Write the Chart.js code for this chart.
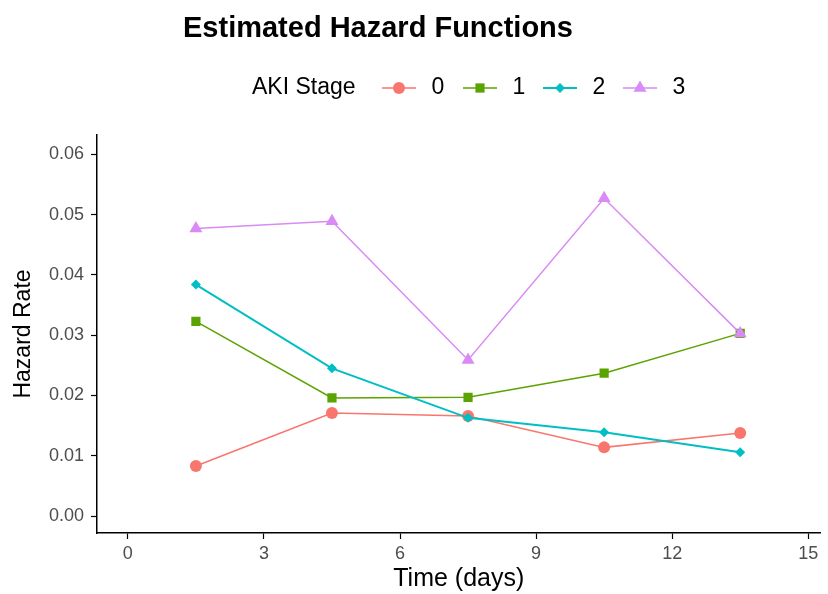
<!DOCTYPE html>
<html><head><meta charset="utf-8">
<script src="https://cdn.jsdelivr.net/npm/chart.js@4/dist/chart.umd.min.js"></script>
<style>html,body{margin:0;padding:0;background:#fff;}#wrap{width:828px;height:594px;}</style>
</head><body><div id="wrap"><canvas id="c" width="828" height="594"></canvas></div>
<script>
const chartTitle = "Estimated Hazard Functions";
const legendTitle = "AKI Stage";
const stages = ["0", "1", "2", "3"];
const times = [1.5, 4.5, 7.5, 10.5, 13.5];
const stage0 = [0.0083, 0.0171, 0.0166, 0.0114, 0.0138];
const stage1 = [0.0323, 0.0196, 0.0197, 0.0237, 0.0303];
const stage2 = [0.0384, 0.0245, 0.0163, 0.0139, 0.0106];
const stage3 = [0.0477, 0.0489, 0.0259, 0.0527, 0.0303];
const xTicks = [0, 3, 6, 9, 12, 15];
const yTicks = [0.00, 0.01, 0.02, 0.03, 0.04, 0.05, 0.06];

const FONT = '"Liberation Sans", Arial, sans-serif';
const series = [stage0, stage1, stage2, stage3];
const colors = ["#F8766D", "#5BA300", "#00BFC4", "#D98AF5"];
const shapes = ["circle", "rect", "rectRot", "triangle"];
const radii = [6, 6.5, 5, 7.5];
const widths = [1.5, 1.5, 2, 1.5];

const datasets = series.map((vals, i) => ({
  label: stages[i],
  data: vals.map((v, j) => ({x: times[j], y: v})),
  borderColor: colors[i],
  backgroundColor: colors[i],
  pointBackgroundColor: colors[i],
  pointBorderColor: colors[i],
  pointBorderWidth: 0,
  pointStyle: shapes[i],
  pointRadius: radii[i],
  borderWidth: widths[i],
  tension: 0,
  order: 3 - i
}));

const decor = {
  id: 'decor',
  afterDraw(chart) {
    const ctx = chart.ctx;
    ctx.save();
    ctx.fillStyle = '#000';
    ctx.textBaseline = 'middle';
    ctx.textAlign = 'left';
    ctx.font = 'bold 29px ' + FONT;
    ctx.fillText(chartTitle, 183, 29);
    ctx.font = '23px ' + FONT;
    ctx.fillText(legendTitle, 252, 88);
    const itemX = [382, 463, 543, 623];
    ctx.textAlign = 'center';
    datasets.forEach((d, i) => {
      const x0 = itemX[i];
      ctx.strokeStyle = d.borderColor;
      ctx.lineWidth = d.borderWidth;
      ctx.beginPath(); ctx.moveTo(x0, 88); ctx.lineTo(x0 + 34, 88); ctx.stroke();
      ctx.fillStyle = d.backgroundColor;
      Chart.helpers.drawPoint(ctx, {pointStyle: d.pointStyle, radius: d.pointRadius, borderWidth: 0, rotation: 0}, x0 + 17, 88);
      ctx.fillStyle = '#000';
      ctx.fillText(d.label, x0 + 56, 88);
    });
    ctx.restore();
  }
};

new Chart(document.getElementById('c'), {
  type: 'line',
  data: {datasets},
  plugins: [decor],
  options: {
    responsive: false,
    animation: false,
    layout: {padding: {top: 135, left: 10, right: 0, bottom: 0}},
    plugins: {legend: {display: false}, tooltip: {enabled: false}, title: {display: false}},
    scales: {
      x: {
        type: 'linear', min: -0.68, max: 15.27,
        afterBuildTicks: a => { a.ticks = xTicks.map(v => ({value: v})); },
        afterFit: a => { a.height = 61; },
        border: {display: true, color: '#000', width: 1.5},
        grid: {display: true, drawOnChartArea: false, drawTicks: true, tickLength: 6, color: '#000', tickWidth: 1.2},
        ticks: {color: '#4D4D4D', font: {size: 18, family: FONT}, padding: 4, maxRotation: 0},
        title: {display: true, text: 'Time (days)', color: '#000', font: {size: 25, family: FONT}, padding: {top: 0, bottom: 0}}
      },
      y: {
        type: 'linear', min: -0.0028, max: 0.0632,
        afterBuildTicks: a => { a.ticks = yTicks.map(v => ({value: v})); },
        afterFit: a => { a.width = 87; },
        border: {display: true, color: '#000', width: 1.5},
        grid: {display: true, drawOnChartArea: false, drawTicks: true, tickLength: 6, color: '#000', tickWidth: 1.2},
        ticks: {color: '#4D4D4D', font: {size: 18, family: FONT}, padding: 7, callback: v => v.toFixed(2)},
        title: {display: true, text: 'Hazard Rate', color: '#000', font: {size: 23, family: FONT}, padding: {top: 0, bottom: 2}}
      }
    }
  }
});
</script></body></html>
